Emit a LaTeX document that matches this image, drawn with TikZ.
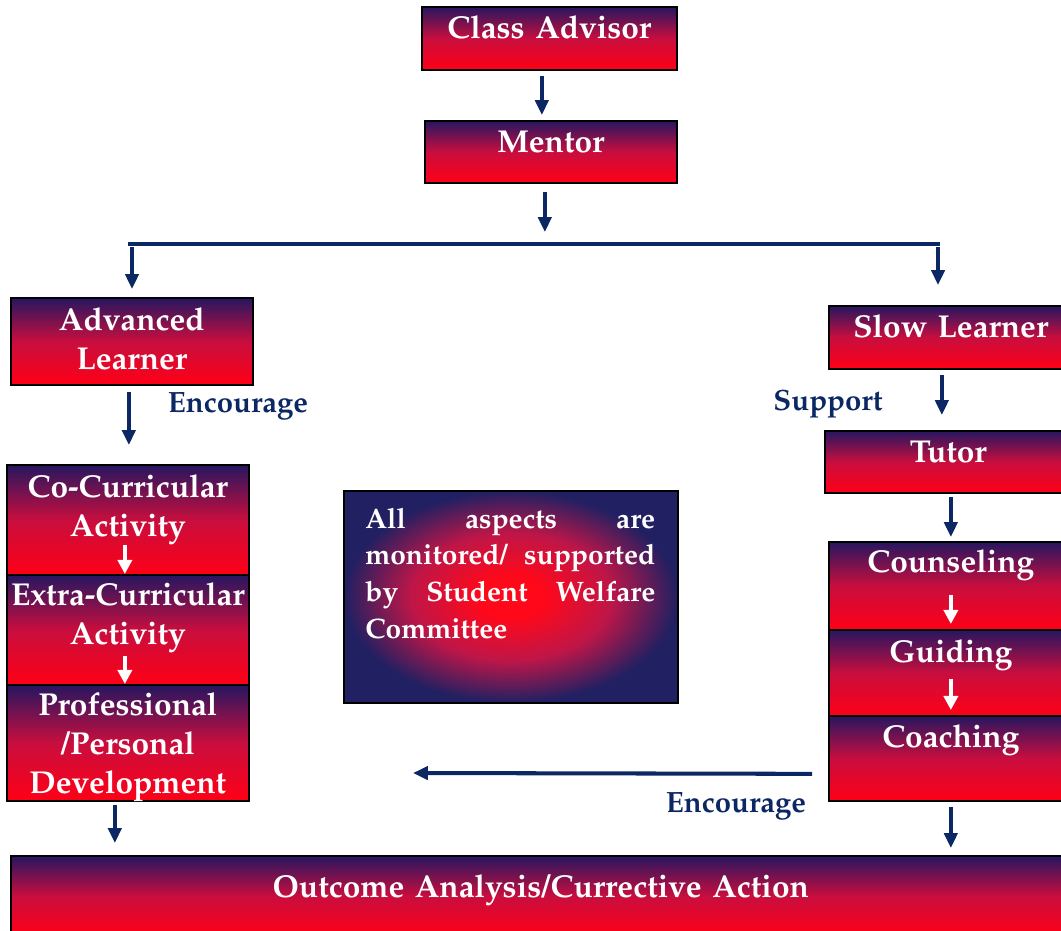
\documentclass[tikz,border=0pt]{standalone}
\usepackage[T1]{fontenc}
\usepackage{mathpazo}
\usetikzlibrary{arrows.meta}

\definecolor{boxtop}{RGB}{38,22,96}
\definecolor{boxmid}{RGB}{200,14,62}
\definecolor{boxbot}{RGB}{255,0,22}
\definecolor{flownavy}{RGB}{12,40,100}
\definecolor{glownavy}{RGB}{32,32,98}
\definecolor{glowred}{RGB}{255,8,26}
\definecolor{glowmid}{RGB}{190,22,72}

\pgfdeclareradialshading{welfareglow}{\pgfpoint{0bp}{0bp}}{%
    color(0bp)=(glowred); color(5bp)=(glowred); color(15bp)=(glowmid);
    color(25bp)=(glownavy); color(50bp)=(glownavy)}

\tikzset{
    stage/.style={draw=black, line width=1pt, anchor=north west, inner sep=0pt,
        top color=boxtop, bottom color=boxbot, middle color=boxmid,
        text=white, font=\fontsize{18}{22}\selectfont\bfseries,
        align=center, text height=0.64cm},
    welfare/.style={draw=black, line width=1pt, anchor=north west, inner sep=0pt,
        shading=welfareglow,
        minimum width=6.68cm, minimum height=4.24cm},
    welfaretext/.style={anchor=base west, inner sep=0pt, text width=5.8cm,
        text=white, font=\fontsize{16}{21}\selectfont\bfseries},
    flow/.style={draw=flownavy, line width=2.3pt, -{Triangle[width=7.5pt,length=8.5pt]}},
    bus/.style={draw=flownavy, line width=2.3pt},
    inflow/.style={draw=white, line width=2pt, -{Triangle[width=8pt,length=8pt]}},
    remark/.style={text=flownavy, font=\fontsize{16.7}{20}\selectfont\bfseries, anchor=base},
}

\begin{document}
\begin{tikzpicture}[x=0.02cm, y=-0.02cm]
    \useasboundingbox (0,0) rectangle (1061,930);

    % boxes
    \node[stage, text width=5.10cm, text depth=0.62cm] (advisor) at (421,6) {Class Advisor};
    \node[stage, text width=5.04cm, text depth=0.60cm] (mentor) at (424,120) {Mentor};
    \node[stage, text width=4.84cm, text height=0.66cm, text depth=1.08cm] (advanced) at (10,297) {Advanced\\Learner};
    \node[stage, text width=4.88cm, text depth=0.62cm] (slow) at (828,305) {Slow Learner};
    \node[stage, text width=4.94cm, text depth=0.60cm] (tutor) at (824,430) {Tutor};

    \node[stage, text width=4.84cm, text height=0.66cm, text depth=1.54cm] (cocurr) at (6,464) {Co-Curricular\\Activity};
    \node[stage, text width=4.84cm, text height=0.62cm, text depth=1.58cm] (extracurr) at (6,574) {\mbox{Extra-Curricular}\\Activity};
    \node[stage, text width=4.84cm, text height=0.62cm, text depth=1.70cm] (profdev) at (6,684) {Professional\\/Personal\\Development};

    \node[stage, text width=4.88cm, text height=0.62cm, text depth=1.14cm] (counsel) at (828,541) {Counseling};
    \node[stage, text width=4.88cm, text height=0.66cm, text depth=1.06cm] (guide) at (828,629) {Guiding};
    \node[stage, text width=4.88cm, text depth=1.06cm] (coach) at (828,715) {Coaching};

    \node[stage, text width=21.20cm, text height=0.84cm, text depth=0.76cm] (outcome) at (10,855) {Outcome Analysis/Currective Action};

    \node[welfare] (welfare) at (343,490) {};
    \node[welfaretext] (welfarenote) at ([xshift=0.44cm, yshift=-0.76cm]welfare.north west)
        {All\hfill aspects\hfill are\\ monitored/\hfill supported\\ by\hfill Student\hfill Welfare\\ Committee};

    % labels
    \node[remark] (encadv) at (238,412) {Encourage};
    \node[remark] (support) at (828,410) {Support};
    \node[remark] (encslow) at (736,812) {Encourage};

    % connectors
    \coordinate (busL) at (128,244);
    \coordinate (busR) at (940,244);
    \coordinate (encend) at (413,773);

    \draw[flow, shorten <=0.1cm, shorten >=0.1cm] ([xshift=-0.15cm]advisor.south) -- ([xshift=-0.15cm]advisor.south |- mentor.north);
    \draw[flow, shorten <=0.16cm, shorten >=0.24cm] ([xshift=-0.12cm]mentor.south) -- ([xshift=-0.12cm]mentor.south |- busL);
    \draw[bus] (busL) -- (busR);
    \draw[flow, shorten <=0.06cm, shorten >=0.16cm] ([xshift=0.08cm]busL) -- ([xshift=0.08cm]busL |- advanced.north);
    \draw[flow, shorten <=0.06cm, shorten >=0.4cm] ([xshift=-0.04cm]busR) -- ([xshift=-0.04cm]busR |- slow.north);

    \draw[flow, shorten <=0.12cm, shorten >=0.38cm] ([xshift=-0.06cm]advanced.south) -- ([xshift=-0.06cm]advanced.south |- cocurr.north);
    \draw[flow, shorten <=0.1cm, shorten >=0.3cm] ([xshift=-0.18cm]slow.south) -- ([xshift=-0.18cm]slow.south |- tutor.north);
    \draw[flow, shorten <=0.06cm, shorten >=0.08cm] ([xshift=0.05cm]tutor.south) -- ([xshift=0.05cm]tutor.south |- counsel.north);
    \draw[flow, shorten <=0.06cm, shorten >=0.24cm] ([xshift=-0.26cm]profdev.south) -- ([xshift=-0.26cm]profdev.south |- outcome.north);
    \draw[flow, shorten <=0.1cm, shorten >=0.14cm] (coach.south) -- (coach.south |- outcome.north);
    \draw[flow, shorten <=0.32cm] ([yshift=-0.31cm]coach.west) -- (encend);

    \draw[inflow] ([xshift=-0.06cm, yshift=0.62cm]cocurr.south) -- ([xshift=-0.06cm]extracurr.north);
    \draw[inflow] ([xshift=-0.06cm, yshift=0.6cm]extracurr.south) -- ([xshift=-0.06cm]profdev.north);
    \draw[inflow, shorten >=0.1cm] ([yshift=0.72cm]counsel.south) -- (guide.north);
    \draw[inflow, shorten >=0.1cm] ([yshift=0.76cm]guide.south) -- (coach.north);
\end{tikzpicture}
\end{document}
